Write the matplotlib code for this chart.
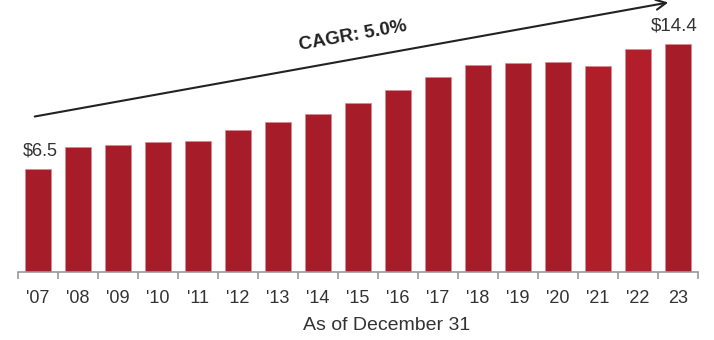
import numpy as np
import matplotlib.pyplot as plt

# Year-end values ($), 2007-2023
years = ["'07", "'08", "'09", "'10", "'11", "'12", "'13", "'14", "'15",
         "'16", "'17", "'18", "'19", "'20", "'21", "'22", "23"]
values = [6.5, 7.9, 8.0, 8.2, 8.3, 9.0, 9.5, 10.0, 10.7,
          11.5, 12.3, 13.1, 13.2, 13.3, 13.0, 14.1, 14.4]
cagr_text = "CAGR: 5.0%"

plt.rcParams['font.family'] = ['Liberation Sans', 'DejaVu Sans']

fig = plt.figure(figsize=(7.14, 3.40), dpi=100)
ax = fig.add_axes([18 / 714, 68 / 340, 680 / 714, 272 / 340])

x = np.arange(len(years))
colors = ['#A61C28'] * len(years)
colors[14] = '#B01E2A'
colors[15] = '#B21F2B'
ax.bar(x, values, width=0.65, color=colors, edgecolor='#D98A90', linewidth=0.5)

ax.set_xlim(-0.5, len(years) - 0.5)
ax.set_ylim(0, 17.2)

# axis line with ticks between categories
for s in ['top', 'right', 'left']:
    ax.spines[s].set_visible(False)
ax.spines['bottom'].set_color('#999999')
ax.spines['bottom'].set_linewidth(1.2)
ax.set_yticks([])
ax.set_xticks(np.arange(-0.5, len(years), 1.0))
ax.set_xticklabels([])
ax.tick_params(axis='x', which='major', direction='out', length=5, color='#999999', width=1.2)
ax.set_xticks(x, minor=True)
ax.set_xticklabels(years, minor=True, fontsize=13, color='#333333')
ax.tick_params(axis='x', which='minor', length=0, pad=13)

fig.text(387 / 714, 1 - 326 / 340, 'As of December 31', ha='center', va='center',
         fontsize=14, color='#333333')

# end-point labels
ax.text(x[0] + 0.05, values[0] + 0.6, '$' + f'{values[0]}', ha='center', va='bottom',
        fontsize=13, color='#333333')
ax.text(x[-1] - 0.1, values[-1] + 0.6, '$' + f'{values[-1]}', ha='center', va='bottom',
        fontsize=13.5, color='#333333')

# growth arrow
fig.patches.append(plt.matplotlib.patches.FancyArrowPatch(
    (32 / 714, 1 - 117 / 340), (671 / 714, 1 - 2 / 340), transform=fig.transFigure,
    arrowstyle='->', mutation_scale=18, color='#222222', linewidth=1.5))
fig.text(353 / 714, 1 - 36 / 340, cagr_text, ha='center', va='center', rotation=10.2,
         fontsize=13.5, fontweight='bold', color='#222222')

fig.savefig('out.png', dpi=100)
